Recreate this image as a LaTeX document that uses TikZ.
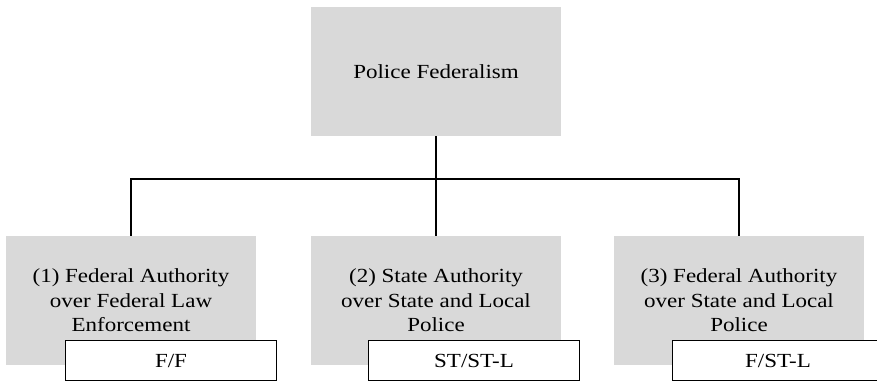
\documentclass[tikz,border=0pt]{standalone}
\usepackage{fontspec}
\setmainfont[FakeStretch=1.15]{Liberation Serif}
\begin{document}
\begin{tikzpicture}[x=1pt,y=-1pt,
  graybox/.style={fill=boxgray,draw=none,minimum width=250pt,minimum height=129pt,
    inner sep=0pt,align=center,font=\fontsize{20}{24.5}\selectfont},
  tagbox/.style={fill=white,draw=black,line width=0.9pt,minimum width=211pt,minimum height=40pt,
    inner sep=0pt,font=\fontsize{20}{24.5}\selectfont},
  link/.style={line width=1.6pt,draw=black}]
\definecolor{boxgray}{HTML}{D9D9D9}
\useasboundingbox (0,0) rectangle (877,381);
\node[graybox] (top) at (436,71.5) {Police Federalism};
\node[graybox] (b1) at (131,300.5) {(1) Federal Authority\\over Federal Law\\Enforcement};
\node[graybox] (b2) at (436,300.5) {(2) State Authority\\over State and Local\\Police};
\node[graybox] (b3) at (739,300.5) {(3) Federal Authority\\over State and Local\\Police};
\node[tagbox] (w1) at (171,360.5) {F/F};
\node[tagbox] (w2) at (474,360.5) {ST/ST-L};
\node[tagbox] (w3) at (778,360.5) {F/ST-L};
\coordinate (bus) at (436,179);
\draw[link] (top.south) -- (b2.north);
\draw[link] (b1.north) |- (bus) -| (b3.north);
\end{tikzpicture}
\end{document}
